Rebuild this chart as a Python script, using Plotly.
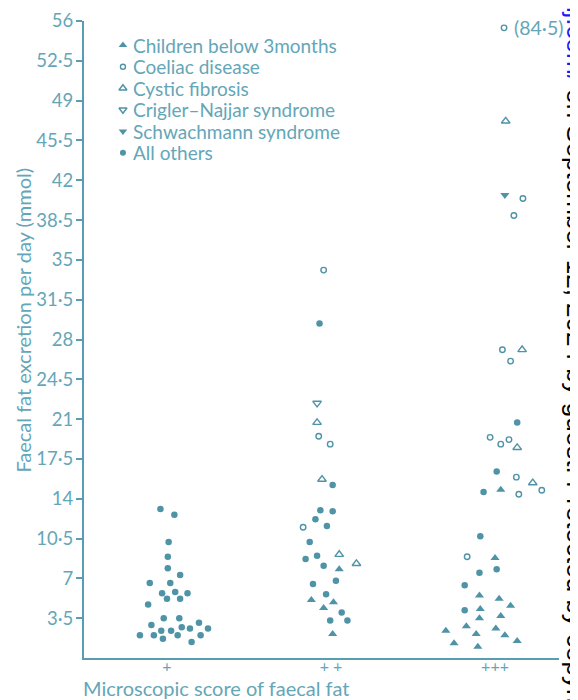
import plotly.graph_objects as go

# ---------------- data ----------------
GROUP_LABELS = ["+", "+ +", "+++"]
Y_TICKS = [3.5, 7, 10.5, 14, 17.5, 21, 24.5, 28, 31.5, 35, 38.5, 42, 45.5, 49, 52.5, 56]
Y_TICK_TEXT = ["3·5", "7", "10·5", "14", "17·5", "21", "24·5", "28", "31·5", "35",
               "38·5", "42", "45·5", "49", "52·5", "56"]

# each entry: (group index, horizontal scatter offset, faecal fat mmol/day)
children_below_3m = [
    (1, 0.05, 7.8), (1, -0.12, 5.1), (1, -0.045, 4.4), (1, 0.015, 4.9), (1, 0.01, 2.1),
    (2, 0.035, 14.8), (2, 0.0, 8.8), (2, -0.095, 5.5), (2, 0.025, 5.2), (2, 0.095, 4.6),
    (2, -0.09, 4.3), (2, -0.095, 3.5), (2, 0.035, 3.7), (2, -0.175, 2.8), (2, 0.005, 2.6),
    (2, -0.3, 2.4), (2, -0.115, 2.1), (2, 0.06, 2.0), (2, -0.25, 1.3), (2, -0.105, 1.0),
    (2, 0.135, 1.5),
]
coeliac = [
    (1, -0.045, 34.1), (1, -0.075, 19.5), (1, -0.005, 18.8), (1, -0.17, 11.5),
    (2, 0.055, 84.5), (2, 0.17, 40.4), (2, 0.115, 38.9), (2, 0.045, 27.1), (2, 0.095, 26.1),
    (2, -0.03, 19.4), (2, 0.035, 18.8), (2, 0.085, 19.2), (2, 0.13, 15.9), (2, 0.145, 14.4),
    (2, 0.285, 14.75), (2, -0.17, 8.9),
]
cystic_fibrosis = [
    (1, -0.085, 20.7), (1, -0.055, 15.7), (1, 0.05, 9.1), (1, 0.155, 8.3),
    (2, 0.065, 47.2), (2, 0.165, 27.1), (2, 0.135, 18.5), (2, 0.23, 15.4),
]
crigler_najjar = [(1, -0.085, 22.4)]
schwachmann = [(2, 0.06, 40.7)]
all_others = [
    (0, -0.04, 13.1), (0, 0.045, 12.6), (0, 0.01, 10.2), (0, 0.005, 8.9), (0, 0.005, 7.9),
    (0, 0.08, 7.3), (0, -0.105, 6.6), (0, 0.02, 6.6), (0, -0.03, 5.7), (0, 0.05, 5.8),
    (0, 0.125, 5.7), (0, 0.0, 5.2), (0, 0.08, 5.2), (0, -0.115, 4.7), (0, -0.02, 3.5),
    (0, 0.075, 3.5), (0, -0.095, 2.9), (0, 0.195, 3.1), (0, 0.09, 2.7), (0, -0.035, 2.4),
    (0, 0.025, 2.4), (0, 0.14, 2.6), (0, 0.25, 2.6), (0, -0.165, 2.0), (0, -0.08, 2.0),
    (0, -0.025, 1.7), (0, 0.065, 2.0), (0, 0.205, 2.0), (0, 0.15, 1.4),
    (1, -0.07, 29.4), (1, 0.01, 15.2), (1, -0.065, 13.0), (1, 0.01, 12.9), (1, -0.095, 12.2),
    (1, -0.025, 11.6), (1, -0.13, 10.2), (1, -0.155, 8.7), (1, -0.085, 9.0), (1, -0.045, 8.1),
    (1, -0.11, 6.5), (1, 0.03, 6.8), (1, -0.03, 5.6), (1, 0.065, 4.0), (1, -0.005, 3.3),
    (1, 0.1, 3.3),
    (2, 0.135, 20.7), (2, 0.01, 16.4), (2, -0.07, 14.6), (2, -0.09, 10.7), (2, 0.01, 7.8),
    (2, -0.095, 7.5), (2, -0.185, 6.4), (2, -0.185, 4.2),
]

# ---------------- styling ----------------
Y_MAX = 56
OFF_SCALE_Y = 55.4          # where off-scale values are drawn (top of axis)
MARK = "#4f93a6"
AXIS = "#5a9db1"
TEXT = "#64a6b8"
FONT = "Lato, 'Open Sans', sans-serif"

series = [
    ("Children below 3months", children_below_3m, "triangle-up", 8, True),
    ("Coeliac disease", coeliac, "circle-open", 5.5, False),
    ("Cystic fibrosis", cystic_fibrosis, "triangle-up-open", 7.5, False),
    ("Crigler–Najjar syndrome", crigler_najjar, "triangle-down-open", 7.5, False),
    ("Schwachmann syndrome", schwachmann, "triangle-down", 8, True),
    ("All others", all_others, "circle", 6.5, True),
]

def marker_style(symbol, size, filled):
    m = dict(symbol=symbol, size=size, color=MARK)
    m["line"] = dict(width=0) if filled else dict(color=MARK, width=1.4)
    return m

fig = go.Figure()
for name, pts, symbol, size, filled in series:
    xs = [g + 1 + off for g, off, v in pts]
    ys = [v if v <= Y_MAX else OFF_SCALE_Y for g, off, v in pts]
    fig.add_trace(go.Scatter(
        x=xs, y=ys, mode="markers", name=name, showlegend=False,
        marker=marker_style(symbol, size, filled),
        customdata=[v for g, off, v in pts],
        hovertemplate="%{customdata} mmol/day<extra>" + name + "</extra>",
    ))

# key (legend) in the top-left corner: symbols on an overlay axis in paper units
KEY_X = 0.082
KEY_TEXT_X = 0.098
KEY_TOP = 0.962
KEY_STEP = 0.0338
for i, (name, pts, symbol, size, filled) in enumerate(series):
    ky = KEY_TOP - i * KEY_STEP
    fig.add_trace(go.Scatter(
        x=[KEY_X], y=[ky], xaxis="x2", yaxis="y2", mode="markers", showlegend=False,
        hoverinfo="skip", marker=marker_style(symbol, size - 0.5, filled),
    ))
    fig.add_annotation(x=KEY_TEXT_X, y=ky, xref="paper", yref="paper", text=name,
                       xanchor="left", yanchor="middle", showarrow=False,
                       font=dict(family=FONT, size=19, color=TEXT))

# label for the off-scale coeliac value
for g, off, v in coeliac:
    if v > Y_MAX:
        fig.add_annotation(x=g + 1 + off, y=OFF_SCALE_Y, xref="x", yref="y",
                           text="(" + f"{v}".replace(".", "·") + ")",
                           xanchor="left", yanchor="middle", xshift=8, showarrow=False,
                           font=dict(family=FONT, size=19.5, color=TEXT))

# axis titles as text
fig.add_annotation(x=0, y=-0.047, xref="paper", yref="paper",
                   text="Microscopic score of faecal fat", xanchor="left", yanchor="middle",
                   xshift=-3, showarrow=False, font=dict(family=FONT, size=20, color=TEXT))
fig.add_annotation(x=-0.128, y=0.53, xref="paper", yref="paper",
                   text="Faecal fat excretion per day (mmol)", textangle=-90,
                   xanchor="center", yanchor="middle",
                   showarrow=False, font=dict(family=FONT, size=20, color=TEXT))

# download watermark along the right edge
fig.add_annotation(x=1.036, y=1.03, xref="paper", yref="paper",
                   text='<span style="color:#1a1aff">p.bmj.com/</span> on September 12, 2024 by guest. Protected by copyright.',
                   textangle=90, xanchor="center", yanchor="top", yshift=49, showarrow=False,
                   font=dict(family="Arial, 'Liberation Sans', sans-serif", size=26, color="black"))

fig.update_layout(
    width=570, height=692,
    margin=dict(l=76, r=19, t=13, b=42),
    paper_bgcolor="white", plot_bgcolor="white",
    font=dict(family=FONT, color=TEXT),
    showlegend=False,
    xaxis=dict(range=[0.494, 3.39], tickvals=[1, 2, 3], ticktext=GROUP_LABELS,
               showgrid=False, zeroline=False, showline=True, linecolor=AXIS, linewidth=2,
               ticks="", ticklabelstandoff=-7,
               tickfont=dict(family=FONT, size=16, color=TEXT), automargin=False),
    yaxis=dict(range=[0, Y_MAX], tickvals=Y_TICKS, ticktext=Y_TICK_TEXT,
               showgrid=False, zeroline=False, showline=True, linecolor=AXIS, linewidth=2,
               ticks="outside", ticklen=6, tickwidth=1.5, tickcolor=AXIS, ticklabelstandoff=-1,
               tickfont=dict(family=FONT, size=18.5, color=TEXT), automargin=False),
    xaxis2=dict(overlaying="x", range=[0, 1], visible=False, fixedrange=True),
    yaxis2=dict(overlaying="y", range=[0, 1], visible=False, fixedrange=True),
)

fig.write_html("out.html")
